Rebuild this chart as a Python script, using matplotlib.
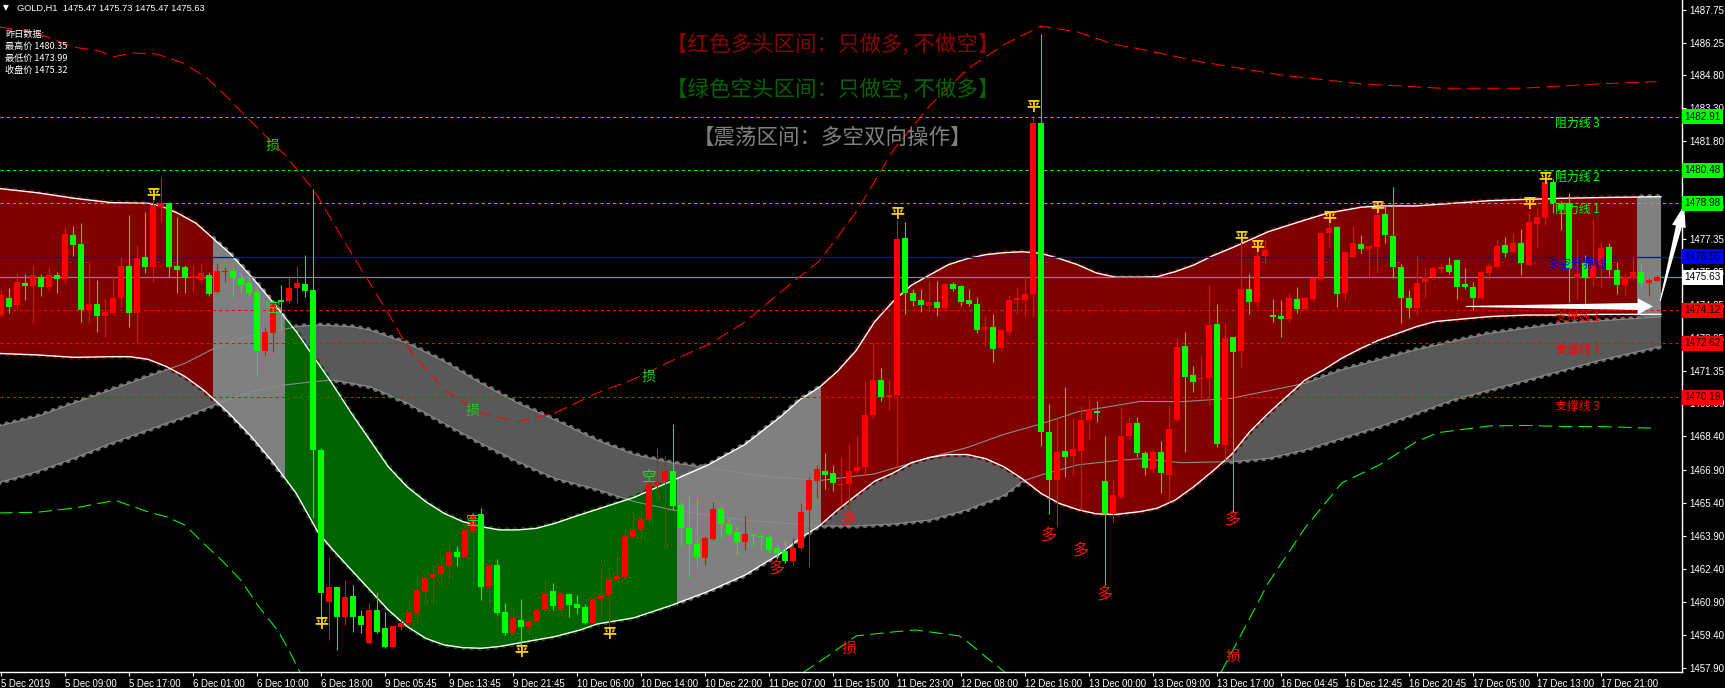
import numpy as np
import matplotlib
matplotlib.use("Agg")
import matplotlib.pyplot as plt
from matplotlib.patches import Rectangle, Polygon
import matplotlib.transforms as mtransforms

# ---------------------------------------------------------------- data
date_labels = ["5 Dec 2019", "5 Dec 09:00", "5 Dec 17:00", "6 Dec 01:00", "6 Dec 10:00",
               "6 Dec 18:00", "9 Dec 05:45", "9 Dec 13:45", "9 Dec 21:45", "10 Dec 06:00",
               "10 Dec 14:00", "10 Dec 22:00", "11 Dec 07:00", "11 Dec 15:00", "11 Dec 23:00",
               "12 Dec 08:00", "12 Dec 16:00", "13 Dec 00:00", "13 Dec 09:00", "13 Dec 17:00",
               "16 Dec 04:45", "16 Dec 12:45", "16 Dec 20:45", "17 Dec 05:00", "17 Dec 13:00",
               "17 Dec 21:00"]
date_label_bars = list(range(0, 201, 8))

opens = [1473.91, 1474.67, 1474.37, 1475.35, 1475.24, 1475.65, 1475.20, 1475.71, 1475.56, 1477.53,
         1477.13, 1474.14, 1474.41, 1473.88, 1474.02, 1474.68, 1476.14, 1473.99, 1476.56, 1476.11,
         1478.83, 1479.01, 1476.14, 1476.11, 1475.58, 1475.50, 1475.71, 1474.97, 1475.86, 1475.93,
         1475.61, 1475.35, 1474.97, 1472.28, 1473.11, 1474.59, 1474.56, 1475.12, 1475.32, 1475.05,
         1467.79, 1460.91, 1461.59, 1460.23, 1461.16, 1460.26, 1459.05, 1460.53, 1459.70, 1458.87,
         1459.74, 1459.92, 1460.38, 1461.36, 1461.97, 1462.16, 1462.50, 1463.18, 1462.95, 1464.08,
         1464.88, 1461.56, 1462.57, 1460.45, 1459.47, 1460.08, 1459.77, 1460.04, 1460.53, 1461.41,
         1460.55, 1461.27, 1460.82, 1460.67, 1459.93, 1461.02, 1461.19, 1461.89, 1462.02, 1463.82,
         1464.19, 1464.61, 1466.19, 1466.37, 1466.84, 1465.30, 1464.24, 1463.50, 1462.89, 1463.74,
         1465.11, 1464.43, 1464.06, 1463.60, 1463.93, 1463.87, 1463.82, 1463.32, 1463.19, 1462.76,
         1463.32, 1465.08, 1466.37, 1466.84, 1466.74, 1466.19, 1466.23, 1466.84, 1467.02, 1469.37,
         1470.97, 1470.17, 1470.26, 1477.39, 1474.89, 1474.60, 1474.34, 1474.49, 1474.24, 1475.30,
         1475.23, 1474.61, 1474.39, 1473.28, 1473.37, 1472.43, 1473.13, 1474.60, 1474.60, 1474.86,
         1482.63, 1468.60, 1466.41, 1467.76, 1467.52, 1467.76, 1469.15, 1469.56, 1466.37, 1464.89,
         1465.67, 1468.42, 1469.00, 1467.64, 1466.91, 1467.71, 1466.65, 1469.15, 1472.51, 1471.18,
         1470.99, 1471.04, 1473.51, 1468.02, 1472.90, 1472.30, 1475.08, 1474.52, 1476.59, 1473.88,
         1473.87, 1473.72, 1474.62, 1474.17, 1474.62, 1475.53, 1477.62, 1477.89, 1474.93, 1476.56,
         1477.13, 1476.89, 1477.01, 1478.50, 1477.50, 1476.11, 1474.67, 1474.22, 1475.43, 1475.65,
         1476.02, 1476.18, 1476.41, 1475.32, 1475.17, 1474.67, 1475.83, 1476.11, 1477.09, 1476.79,
         1477.17, 1476.18, 1478.04, 1478.30, 1479.96, 1478.95, 1479.01, 1475.60, 1476.26, 1475.57,
         1476.18, 1477.01, 1475.95, 1475.27, 1475.57, 1475.88, 1475.38, 1475.47]
highs = [1475.05, 1475.12, 1475.77, 1475.77, 1476.18, 1475.77, 1476.08, 1475.86, 1477.89, 1477.95,
         1478.07, 1476.33, 1475.50, 1474.67, 1475.68, 1476.53, 1478.45, 1477.09, 1478.60, 1479.62,
         1480.19, 1479.06, 1478.38, 1476.18, 1476.18, 1476.23, 1475.88, 1476.26, 1476.08, 1476.08,
         1475.88, 1475.65, 1475.12, 1473.38, 1474.59, 1475.27, 1475.65, 1476.14, 1476.64, 1479.62,
         1467.86, 1462.92, 1461.59, 1461.89, 1461.66, 1460.53, 1460.83, 1461.28, 1460.45, 1459.85,
         1460.23, 1460.98, 1461.97, 1462.22, 1462.65, 1462.95, 1463.55, 1463.43, 1464.46, 1464.91,
         1465.14, 1462.72, 1462.83, 1460.83, 1460.60, 1461.01, 1460.30, 1460.60, 1461.89, 1461.77,
         1461.40, 1461.31, 1461.19, 1460.82, 1461.10, 1462.52, 1462.39, 1463.08, 1464.15, 1464.99,
         1465.08, 1466.56, 1467.86, 1467.52, 1468.97, 1465.45, 1465.73, 1465.63, 1463.87, 1465.41,
         1465.23, 1464.71, 1464.34, 1464.80, 1464.00, 1464.00, 1463.97, 1463.50, 1463.69, 1463.78,
         1465.36, 1466.56, 1467.11, 1467.67, 1467.11, 1467.48, 1468.04, 1468.41, 1470.91, 1472.67,
         1471.52, 1471.00, 1478.23, 1478.13, 1475.08, 1475.08, 1475.45, 1475.45, 1475.36, 1475.41,
         1475.25, 1475.08, 1474.74, 1473.87, 1473.97, 1473.26, 1474.80, 1475.17, 1475.67, 1482.95,
         1486.65, 1469.89, 1469.24, 1470.63, 1469.24, 1469.80, 1470.08, 1469.99, 1468.41, 1466.47,
         1469.75, 1469.30, 1469.30, 1467.76, 1467.82, 1468.21, 1469.78, 1472.85, 1473.16, 1471.60,
         1472.05, 1475.27, 1474.41, 1473.54, 1472.93, 1477.74, 1475.77, 1477.32, 1477.32, 1474.64,
         1474.59, 1474.90, 1475.17, 1474.75, 1475.65, 1477.74, 1478.53, 1477.95, 1476.83, 1477.95,
         1477.54, 1477.09, 1478.83, 1478.90, 1479.74, 1476.23, 1475.05, 1476.59, 1476.08, 1476.14,
         1476.29, 1476.56, 1476.44, 1476.03, 1475.43, 1475.93, 1476.26, 1477.35, 1477.44, 1477.62,
         1477.80, 1478.60, 1478.75, 1480.11, 1480.07, 1479.10, 1479.43, 1477.35, 1476.64, 1478.25,
         1477.24, 1477.20, 1476.33, 1475.80, 1476.64, 1476.26, 1475.58, 1475.73]
lows = [1473.84, 1473.99, 1474.14, 1474.59, 1473.54, 1474.79, 1475.02, 1474.93, 1475.35, 1476.59,
        1473.61, 1473.54, 1473.16, 1472.93, 1473.91, 1474.29, 1473.38, 1472.63, 1475.80, 1475.43,
        1478.15, 1475.65, 1474.90, 1474.90, 1474.97, 1475.35, 1474.78, 1474.93, 1475.43, 1474.75,
        1474.97, 1474.75, 1471.15, 1472.10, 1472.25, 1473.23, 1474.47, 1474.44, 1474.75, 1464.69,
        1459.77, 1459.17, 1458.71, 1459.85, 1459.55, 1459.47, 1459.02, 1459.47, 1458.79, 1458.79,
        1459.62, 1459.85, 1459.92, 1460.91, 1460.83, 1461.74, 1461.89, 1462.53, 1462.87, 1461.74,
        1460.98, 1460.76, 1460.30, 1459.40, 1459.39, 1458.79, 1459.39, 1459.77, 1460.45, 1460.53,
        1460.25, 1460.23, 1460.35, 1459.89, 1459.89, 1460.26, 1459.71, 1461.84, 1461.93, 1463.78,
        1463.69, 1464.48, 1465.63, 1463.41, 1465.08, 1463.41, 1462.02, 1462.48, 1462.58, 1463.69,
        1463.78, 1463.87, 1463.04, 1463.23, 1463.41, 1463.23, 1463.13, 1462.86, 1462.67, 1462.58,
        1463.23, 1462.48, 1465.63, 1466.00, 1465.91, 1465.26, 1465.08, 1466.74, 1466.65, 1469.24,
        1469.99, 1469.61, 1467.02, 1473.97, 1474.34, 1474.06, 1474.06, 1473.87, 1474.15, 1474.99,
        1474.34, 1474.34, 1473.08, 1472.49, 1471.78, 1472.30, 1473.00, 1473.97, 1473.87, 1473.82,
        1467.95, 1464.89, 1464.34, 1466.56, 1466.65, 1465.08, 1468.23, 1469.06, 1461.65, 1464.52,
        1465.60, 1468.24, 1467.49, 1466.65, 1466.73, 1465.82, 1465.44, 1469.12, 1467.71, 1470.44,
        1470.21, 1469.83, 1467.94, 1467.33, 1464.99, 1471.57, 1473.96, 1474.29, 1476.26, 1473.61,
        1472.93, 1473.61, 1473.99, 1474.14, 1474.56, 1475.47, 1477.01, 1474.29, 1474.59, 1476.53,
        1476.74, 1475.65, 1475.83, 1477.17, 1475.58, 1473.54, 1473.76, 1473.91, 1474.67, 1475.53,
        1475.80, 1475.77, 1474.62, 1475.08, 1474.14, 1474.62, 1475.53, 1476.03, 1476.56, 1476.71,
        1475.73, 1476.18, 1477.01, 1478.00, 1478.53, 1477.75, 1474.52, 1474.65, 1474.44, 1475.23,
        1475.12, 1475.68, 1474.85, 1474.82, 1475.50, 1475.17, 1474.79, 1475.47]
closes = [1474.82, 1474.29, 1475.40, 1475.24, 1475.71, 1475.20, 1475.71, 1475.56, 1477.59, 1477.10,
          1474.14, 1474.41, 1473.88, 1474.06, 1474.68, 1476.14, 1473.99, 1476.51, 1476.08, 1478.90,
          1478.98, 1476.11, 1475.96, 1475.58, 1475.68, 1475.80, 1474.87, 1475.93, 1475.93, 1475.58,
          1475.27, 1474.93, 1472.28, 1473.16, 1474.52, 1474.52, 1475.15, 1475.35, 1475.02, 1467.79,
          1461.28, 1461.56, 1460.23, 1461.13, 1460.23, 1459.85, 1460.53, 1459.55, 1458.87, 1459.80,
          1459.95, 1460.45, 1461.44, 1461.97, 1462.16, 1462.50, 1463.18, 1462.95, 1464.16, 1464.84,
          1461.59, 1462.57, 1460.38, 1459.47, 1460.15, 1459.77, 1460.04, 1460.53, 1461.28, 1460.71,
          1461.28, 1460.75, 1460.63, 1459.93, 1461.04, 1461.19, 1461.93, 1462.08, 1463.87, 1464.15,
          1464.67, 1466.23, 1466.37, 1466.84, 1465.23, 1464.24, 1463.50, 1462.95, 1463.78, 1465.11,
          1464.43, 1463.97, 1463.60, 1463.97, 1463.87, 1463.82, 1463.23, 1463.13, 1462.76, 1463.32,
          1464.99, 1466.41, 1466.93, 1466.65, 1466.28, 1466.26, 1466.84, 1467.02, 1469.37, 1470.97,
          1470.17, 1470.30, 1477.36, 1474.93, 1474.56, 1474.37, 1474.52, 1474.24, 1475.30, 1475.11,
          1474.52, 1474.39, 1473.23, 1473.37, 1472.39, 1473.23, 1474.61, 1474.67, 1474.86, 1482.63,
          1468.60, 1466.41, 1467.71, 1467.48, 1467.82, 1469.15, 1469.65, 1469.45, 1464.89, 1465.73,
          1468.42, 1469.00, 1467.64, 1466.96, 1467.71, 1466.73, 1468.73, 1472.48, 1471.12, 1470.89,
          1471.04, 1473.46, 1468.06, 1472.85, 1472.25, 1475.08, 1474.52, 1476.59, 1476.86, 1473.84,
          1473.72, 1474.67, 1474.17, 1474.68, 1475.58, 1477.65, 1477.85, 1474.87, 1476.79, 1477.17,
          1476.89, 1477.04, 1478.45, 1477.54, 1476.11, 1474.67, 1474.22, 1475.38, 1475.65, 1476.03,
          1476.11, 1475.88, 1475.20, 1475.17, 1474.67, 1475.88, 1476.14, 1477.04, 1476.74, 1477.17,
          1476.26, 1478.15, 1478.35, 1479.96, 1478.98, 1478.70, 1475.98, 1475.75, 1475.58, 1476.18,
          1476.94, 1475.95, 1475.27, 1475.65, 1475.88, 1475.38, 1475.50, 1475.63]

# channel (upper / lower white curves), knots: bar index -> price
upper_bars = [-0.5, 4.5, 9.1, 13.75, 18.4, 20.2, 22.1, 24.4, 26.5, 28.6, 31.3, 34.1, 36.9, 39.2,
              41.5, 43.8, 46.1, 48.4, 50.75, 53.1, 55.4, 57.7, 60.0, 62.3, 64.6, 66.9, 69.25, 72.0,
              79.1, 88.4, 93.0, 97.6, 99.9, 102.3, 104.6, 106.9, 109.2, 111.5, 113.8, 116.1, 118.4,
              120.8, 123.1, 125.4, 127.7, 130.0, 132.3, 134.6, 136.9, 139.3, 142.4, 144.5, 146.8,
              149.1, 151.4, 153.75, 158.4, 163.0, 165.8, 170.0, 172.3, 176.9, 181.5, 186.1, 190.8,
              195.4, 200.0, 207.5]
upper_vals = [1479.66, 1479.46, 1479.21, 1479.01, 1478.98, 1478.83, 1478.53, 1478.07, 1477.39,
              1476.71, 1475.65, 1474.44, 1473.16, 1471.95, 1470.74, 1469.45, 1468.24, 1467.03,
              1466.12, 1465.44, 1464.91, 1464.54, 1464.31, 1464.16, 1464.16, 1464.23, 1464.46,
              1464.80, 1465.63, 1467.11, 1468.04, 1469.34, 1470.08, 1470.63, 1471.37, 1472.30,
              1473.60, 1474.52, 1475.26, 1475.73, 1476.19, 1476.47, 1476.65, 1476.74, 1476.78,
              1476.71, 1476.47, 1476.19, 1475.82, 1475.63, 1475.63, 1475.65, 1475.88, 1476.18,
              1476.59, 1476.94, 1477.69, 1478.22, 1478.53, 1478.80, 1478.86, 1478.86, 1478.98,
              1479.10, 1479.16, 1479.21, 1479.24, 1479.28]
lower_bars = [-0.5, 4.5, 9.1, 13.75, 16.1, 18.4, 20.7, 23.0, 25.3, 26.7, 28.5, 31.3, 34.1, 36.9,
              39.7, 41.5, 43.8, 46.1, 48.4, 50.8, 53.1, 55.4, 57.7, 60.0, 62.3, 64.6, 66.9, 69.25,
              72.4, 74.5, 79.1, 83.75, 88.4, 93.0, 97.6, 99.9, 102.3, 104.6, 106.9, 109.2, 111.5,
              113.8, 116.1, 118.4, 120.8, 123.1, 125.4, 127.7, 130.0, 132.3, 134.6, 136.9, 139.3,
              142.4, 144.5, 146.8, 149.1, 151.4, 153.75, 156.1, 158.4, 160.7, 163.0, 165.3, 167.6,
              170.0, 172.3, 174.6, 176.9, 179.2, 181.5, 186.1, 190.8, 195.4, 200.0, 207.5]
lower_vals = [1472.17, 1472.10, 1471.99, 1472.02, 1472.02, 1471.90, 1471.57, 1471.12, 1470.51,
              1470.06, 1469.45, 1468.39, 1467.18, 1465.82, 1464.01, 1463.25, 1462.34, 1461.44,
              1460.53, 1459.77, 1459.24, 1458.94, 1458.82, 1458.79, 1458.87, 1459.02, 1459.17,
              1459.32, 1459.62, 1459.89, 1460.17, 1460.73, 1461.37, 1462.11, 1463.13, 1463.78,
              1464.34, 1465.08, 1465.73, 1466.37, 1466.74, 1467.21, 1467.45, 1467.58, 1467.58,
              1467.39, 1467.02, 1466.47, 1465.82, 1465.36, 1465.08, 1464.89, 1464.86, 1464.99,
              1465.14, 1465.52, 1466.12, 1466.81, 1467.56, 1468.62, 1469.45, 1470.21, 1470.96,
              1471.42, 1471.95, 1472.40, 1472.78, 1473.08, 1473.38, 1473.61, 1473.69, 1473.84,
              1473.91, 1473.91, 1473.94, 1473.94]

# grey cloud band
band_top_bars = [-0.5, 4.5, 9.1, 13.75, 18.4, 23.0, 26.5, 31.0, 37.0, 39.2, 43.8, 46.1, 50.8,
                 55.4, 60.0, 64.6, 69.25, 74.5, 79.1, 83.75, 87.5, 95.0, 102.5, 109.2, 116.1,
                 120.8, 125.4, 130.0, 134.6, 139.3, 142.4, 147.7, 153.75, 163.0, 167.6, 176.9,
                 186.1, 195.4, 204.6, 207.5]
band_top_vals = [1468.85, 1469.30, 1469.91, 1470.51, 1471.12, 1471.72, 1472.37, 1472.95, 1473.38,
                 1473.46, 1473.38, 1473.23, 1472.63, 1471.80, 1470.81, 1469.91, 1469.15, 1468.23,
                 1467.58, 1467.21, 1467.02, 1466.60, 1466.41, 1466.70, 1467.45, 1467.90, 1468.50,
                 1468.97, 1469.52, 1469.80, 1469.99, 1469.98, 1470.13, 1470.81, 1471.42, 1472.33,
                 1473.08, 1473.54, 1473.76, 1473.84]
band_bot_bars = [-0.5, 4.5, 9.1, 13.75, 18.4, 23.0, 26.7, 31.0, 35.5, 39.2, 41.5, 46.1, 50.8,
                 55.4, 60.0, 64.6, 69.25, 74.5, 79.1, 83.75, 93.0, 102.5, 106.9, 111.5, 116.1,
                 120.8, 125.4, 127.7, 130.0, 134.6, 139.3, 142.4, 147.7, 154.2, 158.4, 163.0,
                 167.6, 172.3, 176.9, 181.5, 186.1, 190.8, 195.4, 200.0, 204.6, 207.5]
band_bot_vals = [1466.28, 1466.81, 1467.41, 1468.09, 1468.70, 1469.30, 1469.83, 1470.40, 1470.74,
                 1470.89, 1470.96, 1470.66, 1469.91, 1469.00, 1468.09, 1467.26, 1466.50, 1466.00,
                 1465.45, 1465.08, 1464.60, 1464.34, 1464.34, 1464.43, 1464.61, 1465.08, 1465.73,
                 1466.37, 1466.65, 1467.11, 1467.30, 1467.39, 1467.21, 1467.26, 1467.41, 1467.79,
                 1468.32, 1468.85, 1469.45, 1470.06, 1470.51, 1470.96, 1471.42, 1471.87, 1472.25,
                 1472.48]

# red dashed upper envelope
red_env_bars = [-0.5, 4.5, 9.0, 12.4, 14.0, 16.5, 19.5, 22.75, 25.75, 28.0, 31.5, 35.5, 39.1,
                43.8, 48.4, 50.8, 55.4, 60.0, 64.6, 69.25, 74.5, 79.1, 83.75, 88.4, 93.0, 97.6,
                102.3, 106.9, 111.5, 116.1, 120.8, 125.4, 130.0, 134.6, 139.3, 142.4, 150.0,
                160.0, 170.0, 180.0, 190.0, 200.0, 207.0]
red_env_vals = [1487.00, 1486.71, 1486.07, 1485.89, 1485.62, 1485.80, 1485.75, 1485.35, 1484.66,
                1483.90, 1482.60, 1481.17, 1479.58, 1476.72, 1474.00, 1472.46, 1470.50, 1469.47,
                1469.06, 1469.47, 1470.37, 1471.00, 1471.82, 1472.57, 1473.59, 1475.00, 1476.36,
                1478.58, 1481.37, 1483.41, 1485.07, 1486.19, 1487.02, 1486.75, 1486.18, 1485.98,
                1485.40, 1484.80, 1484.40, 1484.20, 1484.20, 1484.40, 1484.50]

# green dashed lower envelope (three visible pieces)
green_env1_bars = [-0.5, 4.5, 9.1, 14.3, 18.4, 20.7, 23.0, 25.3, 27.6, 30.0, 32.25, 34.6, 36.0, 37.5]
green_env1_vals = [1464.93, 1464.96, 1465.15, 1465.50, 1464.98, 1464.75, 1464.38, 1463.56, 1462.78,
                   1461.87, 1460.66, 1459.60, 1458.70, 1457.60]
green_env2_bars = [100.2, 103.6, 106.9, 111.5, 114.3, 119.8, 121.0, 123.1, 125.6]
green_env2_vals = [1457.67, 1458.50, 1459.35, 1459.53, 1459.62, 1459.35, 1459.03, 1458.40, 1457.67]
green_env3_bars = [152.5, 154.2, 158.4, 163.0, 167.6, 172.3, 176.9, 179.6, 186.1, 190.8, 195.4, 200.0, 207.0]
green_env3_vals = [1457.70, 1458.85, 1461.75, 1464.25, 1466.29, 1467.11, 1468.16, 1468.57, 1468.88,
                   1468.90, 1468.85, 1468.85, 1468.77]

# regime zones of the channel: (from bar, to bar, regime)
zone_edges = [(-0.5, 26.5, "bull"), (26.5, 35.5, "range"), (35.5, 84.5, "bear"),
              (84.5, 102.5, "range"), (102.5, 204.5, "bull"), (204.5, 207.5, "range")]

# horizontal levels
level_values = [1482.91, 1480.48, 1478.98, 1476.55, 1475.63, 1474.12, 1472.62, 1470.19]
level_names = ["阻力线 3", "阻力线 2", "阻力线 1", "多空分界线", None, "支撑线 1", "支撑线 2", "支撑线 3"]
level_kinds = ["res", "res", "res", "mid", "last", "sup", "sup", "sup"]

price_ticks = [1487.75, 1486.25, 1484.80, 1483.30, 1481.80, 1480.30, 1478.80, 1477.35, 1475.85,
               1474.35, 1472.85, 1471.35, 1469.90, 1468.40, 1466.90, 1465.40, 1463.90, 1462.40,
               1460.90, 1459.40, 1457.90]

# signal markers: (bar, price, text, kind)
signals = [(19, 1479.36, "平", "close"), (40, 1459.89, "平", "close"), (65, 1458.62, "平", "close"),
           (76, 1459.44, "平", "close"), (112, 1478.49, "平", "close"), (129, 1483.35, "平", "close"),
           (155, 1477.41, "平", "close"), (157, 1476.99, "平", "close"), (166, 1478.31, "平", "close"),
           (172, 1478.77, "平", "close"), (191, 1478.95, "平", "close"), (193, 1480.08, "平", "close"),
           (34, 1474.23, "空", "short"), (59, 1464.55, "空", "short"), (81, 1466.56, "空", "short"),
           (97, 1462.39, "多", "long"), (106, 1464.61, "多", "long"), (131, 1463.88, "多", "long"),
           (135, 1463.20, "多", "long"), (138, 1461.21, "多", "long"), (154, 1464.61, "多", "long"),
           (34, 1481.58, "损", "stop_s"), (59, 1469.56, "损", "stop_s"), (81, 1471.10, "损", "stop_s"),
           (106, 1458.76, "损", "stop_l"), (154, 1458.39, "损", "stop_l")]

header_text = "GOLD,H1  1475.47 1475.73 1475.47 1475.63"
yday_lines = ["昨日数据:", "最高价 1480.35", "最低价 1473.99", "收盘价 1475.32"]
titles = ["【红色多头区间：只做多, 不做空】", "【绿色空头区间：只做空, 不做多】", "【震荡区间：多空双向操作】"]

# ---------------------------------------------------------------- style
W, H, DPI = 1725, 688, 100
CJK = ["Noto Sans CJK SC", "DejaVu Sans"]
LAT = ["Liberation Sans", "DejaVu Sans"]
zone_fill = {"bull": "#800000", "bear": "#006400", "range": "#808080"}
zone_bump = {"bull": "#6a0000", "bear": "#004e00", "range": "#6c6c6c"}
level_color = {"res": "#00ff00", "mid": "#0000ff", "last": "#778899", "sup": "#ff0000"}
box_color = {"res": "#00ff00", "mid": "#0000ff", "last": "#ffffff", "sup": "#ff0000"}
signal_style = {"close": ("#ffd200", 10), "short": ("#22dd22", 10.5), "long": ("#ff1010", 11.5),
                "stop_s": ("#22cc22", 10), "stop_l": ("#ff1010", 10.5)}

fig = plt.figure(figsize=(W / DPI, H / DPI), dpi=DPI, facecolor="black")
ax = fig.add_axes([0, 16 / H, 1682 / W, 672 / H])
ax.set_facecolor("black")
ax.set_xlim(-0.125, 210.125)
ax.set_ylim(1457.713, 1488.204)

def px2fig(x, y):
    return x / W, 1 - y / H

def clip_to(artist, a, b):
    r = Rectangle((a, 1400), b - a, 120, transform=ax.transData)
    artist.set_clip_path(r)

# grey band
band_poly = np.column_stack([np.r_[band_top_bars, band_bot_bars[::-1]],
                             np.r_[band_top_vals, band_bot_vals[::-1]]])
dots = dict(lw=4.0, linestyle=(0, (0.01, 1.44)), dash_capstyle="round", solid_capstyle="round")
ax.plot(band_top_bars, band_top_vals, color="#6a6a6a", zorder=1.0, **dots)
ax.plot(band_bot_bars, band_bot_vals, color="#6a6a6a", zorder=1.0, **dots)
ax.add_patch(Polygon(band_poly, closed=True, facecolor="#595959", edgecolor="none", zorder=1.1))

# channel zones
chan_poly = np.column_stack([np.r_[upper_bars, lower_bars[::-1]],
                             np.r_[upper_vals, lower_vals[::-1]]])
for a, b, kind in zone_edges:
    for xs, ys in ((upper_bars, upper_vals), (lower_bars, lower_vals)):
        ln, = ax.plot(xs, ys, color=zone_bump[kind], zorder=1.2, **dots)
        clip_to(ln, a, b)
    p = Polygon(chan_poly, closed=True, facecolor=zone_fill[kind], edgecolor="none", zorder=1.3)
    ax.add_patch(p)
    clip_to(p, a, b)

ax.plot(band_top_bars, band_top_vals, color="#8c8c8c", lw=0.8, zorder=1.4)
ax.plot(band_bot_bars, band_bot_vals, color="#8c8c8c", lw=0.8, zorder=1.4)
ax.plot(upper_bars, upper_vals, color="white", lw=1.0, zorder=1.5)
ax.plot(lower_bars, lower_vals, color="white", lw=1.0, zorder=1.5)

# levels
for v, kind in zip(level_values, level_kinds):
    if kind in ("res", "sup"):
        ax.axhline(v, color=level_color[kind], lw=0.75, ls=(0, (3, 3)), zorder=1.6)
    else:
        ax.axhline(v, color=level_color[kind], lw=0.9, zorder=1.6)

# envelopes
ax.plot(red_env_bars, red_env_vals, color="#ff0000", lw=0.75, ls=(0, (13, 6)), zorder=1.7)
for xs, ys in ((green_env1_bars, green_env1_vals), (green_env2_bars, green_env2_vals),
               (green_env3_bars, green_env3_vals)):
    ax.plot(xs, ys, color="#00ff00", lw=0.75, ls=(0, (13, 6)), zorder=1.7)

# candles
o = np.array(opens); h = np.array(highs); l = np.array(lows); c = np.array(closes)
xb = np.arange(len(o))
up = c >= o
cols = np.where(up, "#ff0000", "#00ff00")
ax.vlines(xb, l, h, colors=cols, lw=0.8, zorder=2.0)
body_lo = np.minimum(o, c)
body_h = np.maximum(np.abs(c - o), 0.05)
ax.bar(xb, body_h, bottom=body_lo, width=0.64, color=cols, linewidth=0, zorder=2.1)

# signals
for b, pr, txt, kind in signals:
    col, fs = signal_style[kind]
    ax.text(b, pr, txt, color=col, fontsize=fs, family=CJK, ha="center", va="center",
            fontweight="bold" if kind == "close" else "normal", zorder=3)

# level labels
label_y = {"阻力线 3": 1482.62, "阻力线 2": 1480.17, "阻力线 1": 1478.72, "多空分界线": 1476.23,
           "支撑线 1": 1473.78, "支撑线 2": 1472.28, "支撑线 3": 1469.78}
for v, name, kind in zip(level_values, level_names, level_kinds):
    if name is None:
        continue
    xl = 193.25 if kind == "mid" else 194.25
    ax.text(xl, label_y[name], name, color=level_color[kind], fontsize=8.6, family=CJK,
            ha="left", va="center", zorder=3)

# price boxes on axis
tr = mtransforms.blended_transform_factory(ax.transAxes, ax.transData)
for v, kind in zip(level_values, level_kinds):
    ax.text(1.0012, v, f"{v:.2f}", transform=tr, color="black", fontsize=7.2, family=LAT,
            ha="left", va="center", clip_on=False, zorder=5,
            bbox=dict(boxstyle="square,pad=0.25", facecolor=box_color[kind], edgecolor="none"))

# arrows
def arrow_poly(x0, y0, x1, y1, w0, w1, hw, hl, sx=8.0, sy=22.04):
    P0 = np.array([x0 * sx, y0 * sy]); P1 = np.array([x1 * sx, y1 * sy])
    d = P1 - P0; u = d / np.hypot(*d); n = np.array([-u[1], u[0]])
    base = P1 - u * hl
    pts = [P0 + n * w0, base + n * w1, base + n * hw, P1, base - n * hw, base - n * w1, P0 - n * w0]
    return np.array([(p[0] / sx, p[1] / sy) for p in pts])

ax.add_patch(Polygon(arrow_poly(183.1, 1474.30, 206.5, 1474.30, 0.5, 3.5, 8, 15), closed=True,
                     facecolor="white", edgecolor="none", zorder=4))
ax.add_patch(Polygon(arrow_poly(207.4, 1474.55, 210.4, 1478.90, 0.5, 3.0, 7, 22), closed=True,
                     facecolor="white", edgecolor="none", zorder=4, clip_on=False))

# axes styling
for s in ("top", "left"):
    ax.spines[s].set_visible(False)
for s in ("right", "bottom"):
    ax.spines[s].set_color("white")
    ax.spines[s].set_linewidth(1.0)
ax.yaxis.tick_right()
ax.set_yticks(price_ticks)
ax.set_yticklabels([f"{t:.2f}" for t in price_ticks], family=LAT)
ax.set_xticks(date_label_bars)
ax.set_xticklabels(date_labels, ha="left", family=LAT)
ax.tick_params(axis="y", colors="white", labelsize=7.0, length=3, width=0.8, pad=2.5)
ax.tick_params(axis="x", colors="white", labelsize=6.9, length=3, width=0.8, pad=2)

# header & info texts
fig.text(*px2fig(3, 8), "▼", color="white", fontsize=5.5, family=["DejaVu Sans"], ha="left", va="center")
fig.text(*px2fig(17, 8), header_text, color="white", fontsize=6.7, family=LAT, ha="left", va="center")
for i, t in enumerate(yday_lines):
    fig.text(*px2fig(5, 34 + 12.2 * i), t, color="white", fontsize=6.6, family=CJK, ha="left", va="center")

title_cols = ["#8b0000", "#006400", "#808080"]
title_y = [1486.17, 1484.15, 1481.95]
for t, col, y in zip(titles, title_cols, title_y):
    ax.text(103.9, y, t, color=col, fontsize=15.5, family=CJK, ha="center", va="center", zorder=3)

fig.savefig("out.png", dpi=DPI, facecolor="black")
